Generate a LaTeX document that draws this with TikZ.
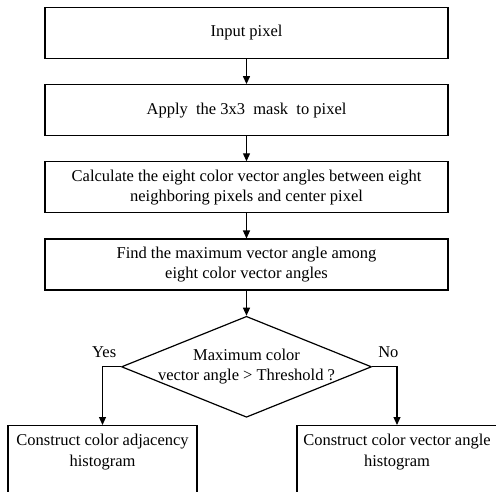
\documentclass[tikz,border=0pt]{standalone}
\usepackage{fontspec}
\setmainfont{Liberation Serif}
\usetikzlibrary{positioning, arrows.meta, shapes.geometric}

\begin{document}
\begin{tikzpicture}[x=1pt, y=1pt, node distance=25pt,
        font=\fontsize{16.5}{20.5}\selectfont,
        stepbox/.style={draw, line width=1.2pt, minimum width=403pt, minimum height=51pt, inner sep=0pt, align=center},
        histbox/.style={draw, line width=1.2pt, minimum height=90pt, anchor=north},
        flow/.style={line width=1.2pt, -{Triangle[width=7pt, length=8pt]}}]
        \clip (0,0) rectangle (496,-492);
        \node (input) [stepbox] at (246.5,-33) {Input pixel};
        \node (mask) [stepbox, below=of input] {Apply~ the 3x3~ mask~ to pixel};
        \node (calc) [stepbox, below=of mask] {Calculate the eight color vector angles between eight\\neighboring pixels and center pixel};
        \node (find) [stepbox, below=of calc] {Find the maximum vector angle among\\eight color vector angles};
        \node (thr) [draw, diamond, line width=1.2pt, minimum width=250pt, minimum height=101pt, inner sep=0pt, below=of find, label={[align=center]center:Maximum color\\vector angle > Threshold ?}] {};
        \node (yes) [inner sep=0pt, above left=9pt and 4.5pt of thr.west] {Yes};
        \node (no) [inner sep=0pt, above right=9pt and 6pt of thr.east] {No};
        \node (adj) [histbox, minimum width=189pt, label={[align=center, anchor=north, yshift=-6pt]north:Construct color adjacency\\histogram}] at (102.5,-425) {};
        \node (vang) [histbox, minimum width=200pt, label={[align=center, anchor=north, yshift=-6pt]north:Construct color vector angle\\histogram}] at (397,-425) {};
        \draw [flow] (input) -- (mask);
        \draw [flow] (mask) -- (calc);
        \draw [flow] (calc) -- (find);
        \draw [flow] (find) -- (thr);
        \draw [flow] (thr.west) -| (adj.north);
        \draw [flow] (thr.east) -| (vang.north);
\end{tikzpicture}
\end{document}
